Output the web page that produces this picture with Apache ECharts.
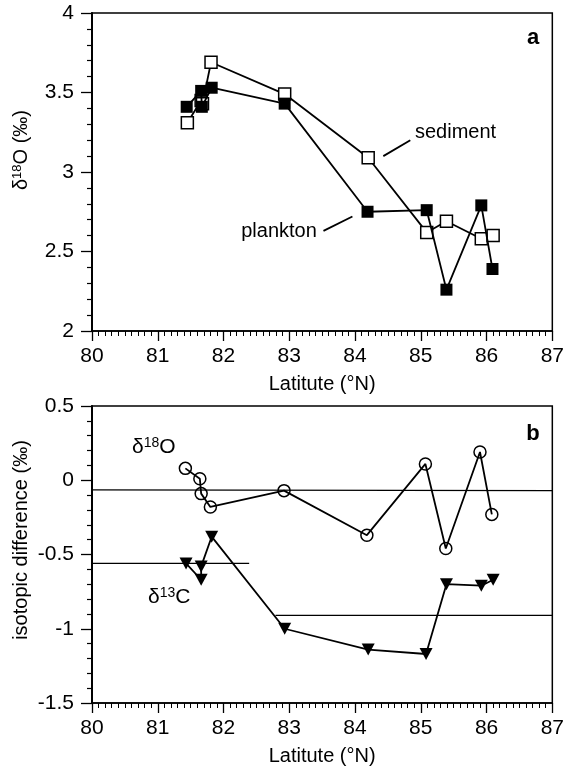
<!DOCTYPE html>
<html>
<head>
<meta charset="utf-8">
<script src="https://cdn.jsdelivr.net/npm/echarts@6/dist/echarts.min.js"></script>
<style>
  html, body { margin: 0; padding: 0; background: #fff; }
  #chart { width: 567px; height: 769px; }
</style>
</head>
<body>
<div id="chart"></div>
<script>
// panel a: d18O of sediment and plankton vs latitude
var sediment = [
  [81.45, 3.31], [81.66, 3.45], [81.68, 3.43], [81.81, 3.69], [82.93, 3.49],
  [84.20, 3.09], [85.09, 2.62], [85.39, 2.69], [85.92, 2.58], [86.10, 2.60]
];
var plankton = [
  [81.44, 3.41], [81.66, 3.51], [81.67, 3.41], [81.82, 3.53], [82.93, 3.43],
  [84.19, 2.75], [85.09, 2.76], [85.39, 2.26], [85.92, 2.79], [86.09, 2.39]
];
// panel b: isotopic difference
var diffO18 = [
  [81.42, 0.08], [81.64, 0.01], [81.66, -0.09], [81.80, -0.18], [82.92, -0.07],
  [84.18, -0.37], [85.07, 0.11], [85.38, -0.46], [85.90, 0.19], [86.08, -0.23]
];
var diffC13 = [
  [81.43, -0.56], [81.66, -0.67], [81.66, -0.58], [81.82, -0.38], [82.93, -1.00],
  [84.20, -1.14], [85.08, -1.17], [85.39, -0.70], [85.92, -0.71], [86.10, -0.67]
];
// mean lines
var meanO18 = [[80, -0.065], [87, -0.07]];
var meanC13a = [[80, -0.56], [82.39, -0.56]];
var meanC13b = [[82.79, -0.91], [87, -0.91]];
// label leaders (panel a)
var leaderSed = [[84.43, 3.10], [84.84, 3.20]];
var leaderPlk = [[83.52, 2.63], [83.96, 2.72]];

var latTicks = [80, 87, 1];

var chart = echarts.init(document.getElementById('chart'));
var FONT = '"Liberation Sans", Arial, Helvetica, sans-serif';

function xAx(idx) {
  return {
    gridIndex: idx, type: 'value', min: latTicks[0], max: latTicks[1], interval: latTicks[2],
    axisLine: { onZero: false, lineStyle: { color: '#000', width: 1.5 } },
    axisTick: { length: 10, lineStyle: { color: '#000', width: 1.3 } },
    minorTick: { show: true, splitNumber: 10, length: 5, lineStyle: { color: '#000', width: 1 } },
    axisLabel: { color: '#000', fontSize: 21, fontFamily: FONT, margin: 15 },
    splitLine: { show: false },
    name: 'Latitute (°N)', nameLocation: 'middle', nameGap: 43,
    nameTextStyle: { color: '#000', fontSize: 20, fontFamily: FONT }
  };
}
function yAx(idx, min, max) {
  return {
    gridIndex: idx, type: 'value', min: min, max: max, interval: 0.5,
    axisLine: { onZero: false, lineStyle: { color: '#000', width: 2 } },
    axisTick: { length: 11, lineStyle: { color: '#000', width: 1.3 } },
    minorTick: { show: true, splitNumber: 5, length: 5, lineStyle: { color: '#000', width: 1.2 } },
    axisLabel: { color: '#000', fontSize: 21, fontFamily: FONT, margin: 18 },
    splitLine: { show: false }
  };
}

var lineBase = { type: 'line', lineStyle: { color: '#000', width: 1.8 }, animation: false };

var option = {
  backgroundColor: '#fff',
  grid: [
    { left: 92, top: 13, width: 462, height: 318, show: true, borderColor: '#000', borderWidth: 1.5 },
    { left: 92, top: 406, width: 462, height: 297, show: true, borderColor: '#000', borderWidth: 1.5 }
  ],
  xAxis: [xAx(0), xAx(1)],
  yAxis: [yAx(0, 2, 4), yAx(1, -1.5, 0.5)],
  series: [
    Object.assign({}, lineBase, {
      xAxisIndex: 0, yAxisIndex: 0, data: sediment, z: 2,
      symbol: 'rect', symbolSize: 12,
      itemStyle: { color: '#fff', borderColor: '#000', borderWidth: 1.5 }
    }),
    Object.assign({}, lineBase, {
      xAxisIndex: 0, yAxisIndex: 0, data: plankton, z: 3,
      symbol: 'rect', symbolSize: 12,
      itemStyle: { color: '#000', borderColor: '#000', borderWidth: 0 }
    }),
    Object.assign({}, lineBase, {
      xAxisIndex: 0, yAxisIndex: 0, data: leaderSed, symbol: 'none'
    }),
    Object.assign({}, lineBase, {
      xAxisIndex: 0, yAxisIndex: 0, data: leaderPlk, symbol: 'none'
    }),
    Object.assign({}, lineBase, {
      xAxisIndex: 1, yAxisIndex: 1, data: meanO18, symbol: 'none', lineStyle: { color: '#000', width: 1.2 }
    }),
    Object.assign({}, lineBase, {
      xAxisIndex: 1, yAxisIndex: 1, data: meanC13a, symbol: 'none', lineStyle: { color: '#000', width: 1.2 }
    }),
    Object.assign({}, lineBase, {
      xAxisIndex: 1, yAxisIndex: 1, data: meanC13b, symbol: 'none', lineStyle: { color: '#000', width: 1.2 }
    }),
    Object.assign({}, lineBase, {
      xAxisIndex: 1, yAxisIndex: 1, data: diffO18, z: 3,
      symbol: 'circle', symbolSize: 12,
      itemStyle: { color: 'rgba(255,255,255,0)', borderColor: '#000', borderWidth: 1.5 }
    }),
    Object.assign({}, lineBase, {
      xAxisIndex: 1, yAxisIndex: 1, data: diffC13, z: 3,
      symbol: 'triangle', symbolRotate: 180, symbolSize: [13, 12],
      itemStyle: { color: '#000' }
    })
  ],
  graphic: [
    { type: 'text', x: 533, y: 38, style: { text: 'a', font: 'bold 22px ' + FONT, fill: '#000', align: 'center', verticalAlign: 'middle' } },
    { type: 'text', x: 533, y: 434, style: { text: 'b', font: 'bold 22px ' + FONT, fill: '#000', align: 'center', verticalAlign: 'middle' } },
    { type: 'text', x: 415, y: 132, style: { text: 'sediment', font: '20px ' + FONT, fill: '#000', align: 'left', verticalAlign: 'middle' } },
    { type: 'text', x: 279, y: 231, style: { text: 'plankton', font: '20px ' + FONT, fill: '#000', align: 'center', verticalAlign: 'middle' } },
    { type: 'text', x: 132, y: 447, style: {
        text: '{a|δ}{s|18}{a|O}', align: 'left', verticalAlign: 'middle', fill: '#000',
        rich: { a: { fontSize: 21, fontFamily: FONT }, s: { fontSize: 14, fontFamily: FONT, verticalAlign: 'top', padding: [0, 0, 8, 0] } } } },
    { type: 'text', x: 148, y: 597, style: {
        text: '{a|δ}{s|13}{a|C}', align: 'left', verticalAlign: 'middle', fill: '#000',
        rich: { a: { fontSize: 21, fontFamily: FONT }, s: { fontSize: 14, fontFamily: FONT, verticalAlign: 'top', padding: [0, 0, 8, 0] } } } },
    { type: 'text', x: 21, y: 150, rotation: Math.PI / 2, style: {
        text: '{a|δ}{s|18}{a|O (‰)}', align: 'center', verticalAlign: 'middle', fill: '#000',
        rich: { a: { fontSize: 20, fontFamily: FONT }, s: { fontSize: 13, fontFamily: FONT, verticalAlign: 'top', padding: [0, 0, 8, 0] } } } },
    { type: 'text', x: 21, y: 540, rotation: Math.PI / 2, style: {
        text: 'isotopic difference (‰)', font: '20px ' + FONT, fill: '#000', align: 'center', verticalAlign: 'middle' } }
  ]
};
chart.setOption(option);
</script>
</body>
</html>
